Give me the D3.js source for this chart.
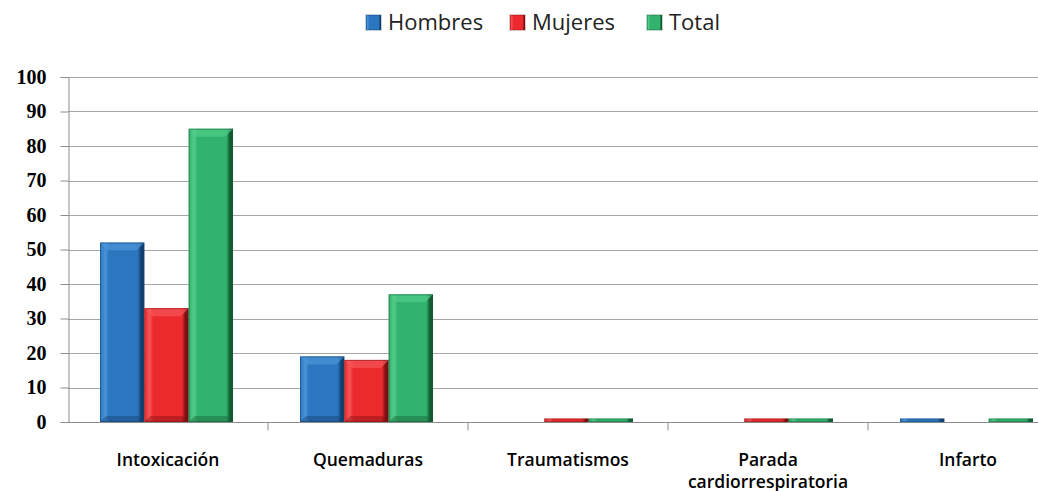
<!DOCTYPE html>
<html>
<head>
<meta charset="utf-8">
<script src="https://cdn.jsdelivr.net/npm/d3@7"></script>
<style>
  body { margin: 0; background: #fff; }
  svg { display: block; }
</style>
</head>
<body>
<svg id="chart" width="1038" height="491"></svg>
<script>
const categories = ["Intoxicación", "Quemaduras", "Traumatismos", "Parada cardiorrespiratoria", "Infarto"];
const categoryLines = [["Intoxicación"], ["Quemaduras"], ["Traumatismos"], ["Parada", "cardiorrespiratoria"], ["Infarto"]];
const seriesNames = ["Hombres", "Mujeres", "Total"];
const hombres = [52, 19, 0, 0, 1];
const mujeres = [33, 18, 1, 1, 0];
const total = [85, 37, 1, 1, 1];
const yTicks = [0, 10, 20, 30, 40, 50, 60, 70, 80, 90, 100];

const seriesValues = [hombres, mujeres, total];
const colors = [
  { base: "#2c76bf", light: "#4a95d8", dark: "#123f6e" },
  { base: "#ec2a2d", light: "#f5565a", dark: "#7a1012" },
  { base: "#31b36d", light: "#52cc8a", dark: "#135a33" }
];

const svg = d3.select("#chart");
const margin = { left: 68, top: 77, bottom: 422 };
const plotRight = 1068; // chart is cut off at the right edge

const x = d3.scaleBand().domain(categories).range([margin.left, plotRight]);
const y = d3.scaleLinear().domain([0, 100]).range([margin.bottom, margin.top]);
const xs = d3.scaleBand().domain(seriesNames)
  .range([x.bandwidth() * 0.16, x.bandwidth() * 0.825]);

// gradients
const defs = svg.append("defs");
colors.forEach((c, i) => {
  const h = defs.append("linearGradient").attr("id", "h" + i).attr("x1", 0).attr("x2", 1).attr("y1", 0).attr("y2", 0);
  h.append("stop").attr("offset", "0%").attr("stop-color", c.base);
  h.append("stop").attr("offset", "12%").attr("stop-color", c.light);
  h.append("stop").attr("offset", "20%").attr("stop-color", c.base);
  h.append("stop").attr("offset", "85%").attr("stop-color", c.base);
  h.append("stop").attr("offset", "93%").attr("stop-color", c.dark);
  h.append("stop").attr("offset", "100%").attr("stop-color", c.dark);
});

// grid lines
svg.append("g")
  .selectAll("line")
  .data(yTicks.filter(d => d > 0))
  .join("line")
  .attr("x1", margin.left).attr("x2", plotRight)
  .attr("y1", d => Math.round(y(d)) + 0.5).attr("y2", d => Math.round(y(d)) + 0.5)
  .attr("stroke", "#a6a6a6").attr("stroke-width", 1);

// y axis
const yAxis = svg.append("g")
  .attr("transform", `translate(${margin.left + 0.5},0)`)
  .call(d3.axisLeft(y).tickValues(yTicks).tickSize(8).tickPadding(14));
yAxis.select(".domain").attr("stroke", "#8c8c8c");
yAxis.selectAll(".tick line").attr("stroke", "#8c8c8c");
yAxis.selectAll(".tick text")
  .attr("fill", "#000")
  .style("font-family", "'Liberation Serif', 'DejaVu Serif', serif")
  .style("font-weight", "bold")
  .style("font-size", "20px");

// bars
seriesNames.forEach((name, si) => {
  const g = svg.append("g");
  const bars = g.selectAll("g.bar")
    .data(categories.map((c, ci) => ({ c, v: seriesValues[si][ci] })).filter(d => d.v > 0))
    .join("g").attr("class", "bar");
  bars.append("rect")
    .attr("x", d => x(d.c) + xs(name))
    .attr("y", d => y(d.v))
    .attr("width", xs.bandwidth())
    .attr("height", d => y(0) - y(d.v))
    .attr("fill", `url(#h${si})`);
  // top bevel highlight
  bars.filter(d => y(0) - y(d.v) > 10).append("path")
    .attr("d", d => {
      const x0 = x(d.c) + xs(name), x1 = x0 + xs.bandwidth(), t = y(d.v), b = 8;
      return `M${x0},${t}L${x1},${t}L${x1 - b},${t + b}L${x0 + b},${t + b}Z`;
    })
    .attr("fill", colors[si].light).attr("opacity", 0.7);
  // bottom bevel shadow
  bars.filter(d => y(0) - y(d.v) > 10).append("path")
    .attr("d", d => {
      const x0 = x(d.c) + xs(name), x1 = x0 + xs.bandwidth(), bt = y(0), b = 6;
      return `M${x0},${bt}L${x1},${bt}L${x1 - b},${bt - b}L${x0 + b},${bt - b}Z`;
    })
    .attr("fill", colors[si].dark).attr("opacity", 0.4);
  bars.append("rect")
    .attr("x", d => x(d.c) + xs(name) + 0.5)
    .attr("y", d => y(d.v) + 0.5)
    .attr("width", xs.bandwidth() - 1)
    .attr("height", d => Math.max(0, y(0) - y(d.v) - 1))
    .attr("fill", "none")
    .attr("stroke", colors[si].dark).attr("stroke-opacity", 0.5);
});

// x axis
const xAxisG = svg.append("g").attr("transform", `translate(0,${margin.bottom + 0.5})`);
xAxisG.append("line").attr("x1", margin.left).attr("x2", plotRight).attr("stroke", "#8c8c8c");
xAxisG.selectAll("line.tk")
  .data(categories)
  .join("line").attr("class", "tk")
  .attr("x1", d => Math.round(x(d) + x.bandwidth())).attr("x2", d => Math.round(x(d) + x.bandwidth()))
  .attr("y1", 0).attr("y2", 8)
  .attr("stroke", "#8c8c8c");
xAxisG.selectAll("text")
  .data(categories)
  .join("text")
  .attr("x", d => x(d) + x.bandwidth() / 2)
  .attr("y", 43)
  .attr("text-anchor", "middle")
  .style("font-family", "'Open Sans', 'Liberation Sans', sans-serif")
  .style("font-weight", "600")
  .style("font-size", "17.5px")
  .attr("fill", "#000")
  .each(function(d, i) {
    categoryLines[i].forEach((ln, k) => {
      d3.select(this).append("tspan")
        .attr("x", x(d) + x.bandwidth() / 2)
        .attr("dy", k === 0 ? 0 : 22)
        .text(ln);
    });
  });

// legend
const legendX = [366, 510, 647];
const legend = svg.append("g");
seriesNames.forEach((name, i) => {
  legend.append("rect")
    .attr("x", legendX[i]).attr("y", 15)
    .attr("width", 15).attr("height", 15)
    .attr("fill", `url(#h${i})`)
    .attr("stroke", colors[i].dark).attr("stroke-opacity", 0.5);
  legend.append("text")
    .attr("x", legendX[i] + 22).attr("y", 30)
    .style("font-family", "'Open Sans', 'Liberation Sans', sans-serif")
    .style("font-size", "22px")
    .attr("fill", "#222")
    .text(name);
});
</script>
</body>
</html>
